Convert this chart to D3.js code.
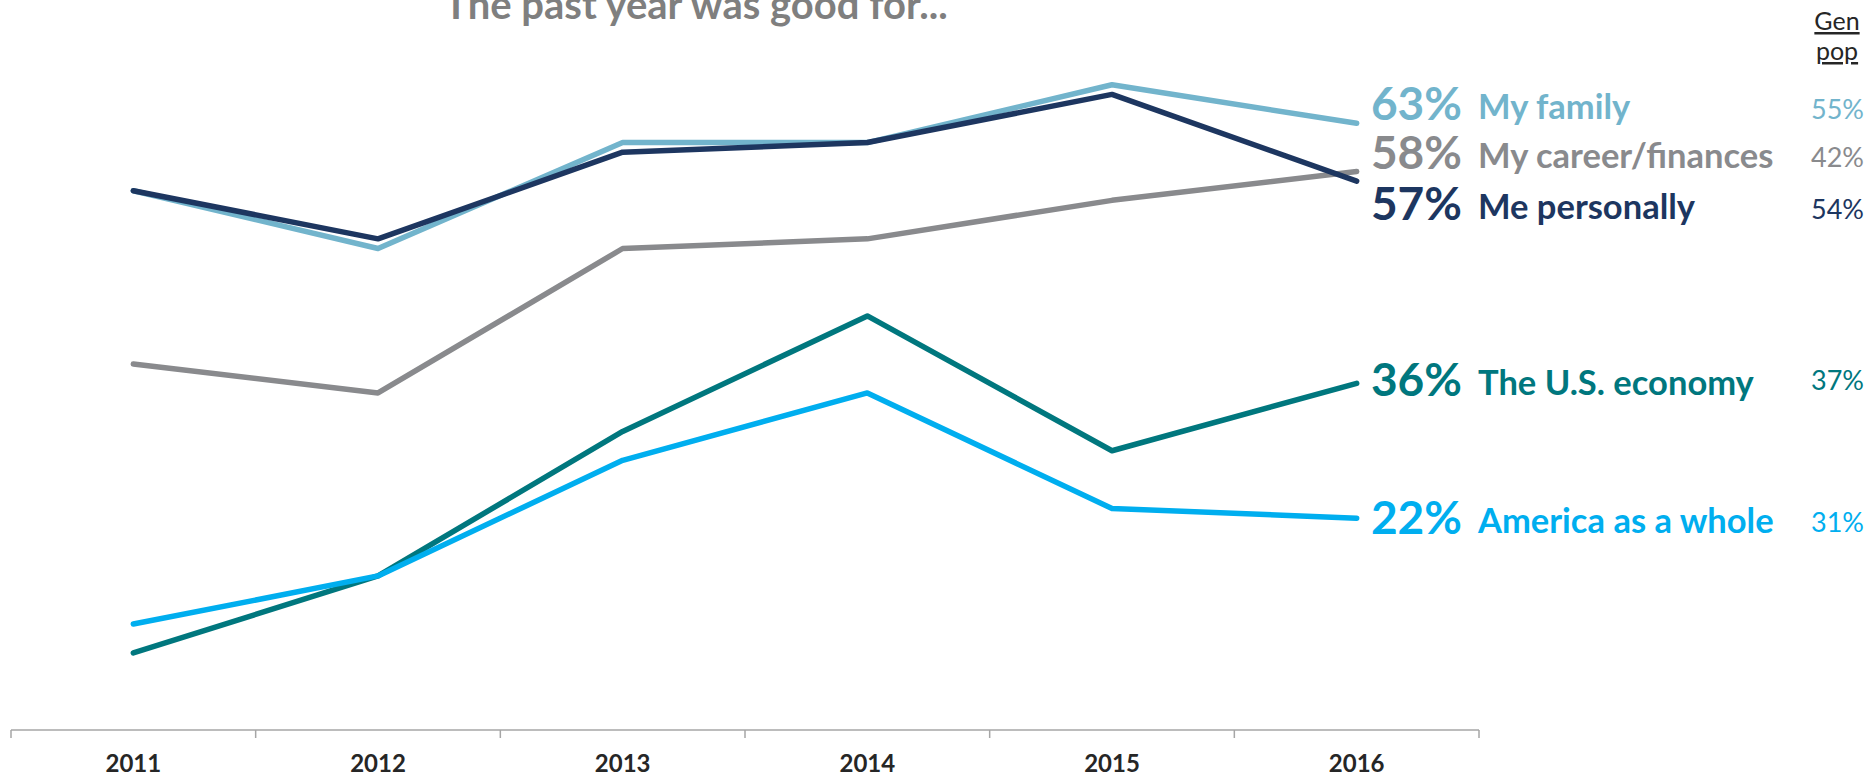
<!DOCTYPE html>
<html>
<head>
<meta charset="utf-8">
<script src="https://cdn.jsdelivr.net/npm/d3@7"></script>
<style>
  html, body { margin: 0; padding: 0; background: #ffffff; }
  svg { display: block; font-family: Lato, "Open Sans", sans-serif; }
</style>
</head>
<body>
<svg id="chart" width="1870" height="777"></svg>
<script>
// Survey years on the x axis
const years = ["2011", "2012", "2013", "2014", "2015", "2016"];

// Share saying the past year was good for... (%)
const myFamily      = [56, 50, 61, 61, 67, 63];
const myCareer      = [38, 35, 50, 51, 55, 58];
const mePersonally  = [56, 51, 60, 61, 66, 57];
const usEconomy     = [8, 16, 31, 43, 29, 36];
const americaWhole  = [11, 16, 28, 35, 23, 22];

// Series names and the general-population comparison figures
const seriesNames = ["My family", "My career/finances", "Me personally", "The U.S. economy", "America as a whole"];
const genPop = [55, 42, 54, 37, 31];

const titleText = "The past year was good for...";

// ---- layout ----
const W = 1870, H = 777;
const axisY = 730;
const pxPerPoint = 9.63;
const colors = ["#72b4cc", "#898a8d", "#1d3660", "#00777e", "#00aeef"];
const labelNudge = [-3, -2, 39, 13, 16];
const genPopNudge = [-4, -4, 38, 7, 14];
const drawOrder = [1, 0, 2, 3, 4];

const values = [myFamily, myCareer, mePersonally, usEconomy, americaWhole];

const svg = d3.select("#chart");
svg.append("rect").attr("width", W).attr("height", H).attr("fill", "#fff");

const x = d3.scaleBand().domain(years).range([11, 1479]);
const y = d3.scaleLinear().domain([0, 70]).range([axisY, axisY - 70 * pxPerPoint]);
const cx = d => x(d) + x.bandwidth() / 2;

// Title (runs off the top edge)
svg.append("text")
  .attr("x", 444).attr("y", 19)
  .attr("font-size", 40).attr("font-weight", 700)
  .attr("fill", "#7f7f7f")
  .text(titleText);

// Category axis with ticks between the years
const axisG = svg.append("g");
axisG.append("line")
  .attr("x1", x.range()[0]).attr("x2", x.range()[1])
  .attr("y1", axisY).attr("y2", axisY)
  .attr("stroke", "#a6a6a6").attr("stroke-width", 1.5);
const edges = years.map(d => x(d)).concat([x.range()[1]]);
axisG.selectAll("line.tick").data(edges).join("line")
  .attr("class", "tick")
  .attr("x1", d => d).attr("x2", d => d)
  .attr("y1", axisY).attr("y2", axisY + 8)
  .attr("stroke", "#a6a6a6").attr("stroke-width", 1.5);
axisG.selectAll("text.year").data(years).join("text")
  .attr("class", "year")
  .attr("x", d => cx(d)).attr("y", 772)
  .attr("text-anchor", "middle")
  .attr("font-size", 24).attr("font-weight", 700)
  .attr("fill", "#262626")
  .text(d => d);

// Lines
const line = d3.line().x((d, i) => cx(years[i])).y(d => y(d));
svg.append("g").selectAll("path").data(drawOrder).join("path")
  .attr("d", i => line(values[i]))
  .attr("fill", "none")
  .attr("stroke", i => colors[i])
  .attr("stroke-width", 5.5)
  .attr("stroke-linecap", "round")
  .attr("stroke-linejoin", "round");

// End labels: latest value, series name, gen pop figure
const lastX = 1462, nameX = 1478, genX = 1864;
const lab = svg.append("g");
values.forEach((v, i) => {
  const last = v[v.length - 1];
  const by = y(last) + labelNudge[i];
  lab.append("text")
    .attr("x", lastX).attr("y", by)
    .attr("text-anchor", "end")
    .attr("font-size", 46).attr("font-weight", 700)
    .attr("fill", colors[i])
    .text(last + "%");
  lab.append("text")
    .attr("x", nameX).attr("y", by - 1)
    .attr("font-size", 34.5).attr("font-weight", 700)
    .attr("fill", colors[i])
    .text(seriesNames[i]);
  lab.append("text")
    .attr("x", genX).attr("y", y(last) + genPopNudge[i])
    .attr("text-anchor", "end")
    .attr("font-size", 27)
    .attr("fill", colors[i])
    .text(genPop[i] + "%");
});

// "Gen pop" column header, underlined
["Gen", "pop"].forEach((t, k) => {
  lab.append("text")
    .attr("x", 1837).attr("y", 30 + k * 30)
    .attr("text-anchor", "middle")
    .attr("font-size", 25)
    .attr("fill", "#262626")
    .attr("text-decoration", "underline")
    .text(t);
});
</script>
</body>
</html>
